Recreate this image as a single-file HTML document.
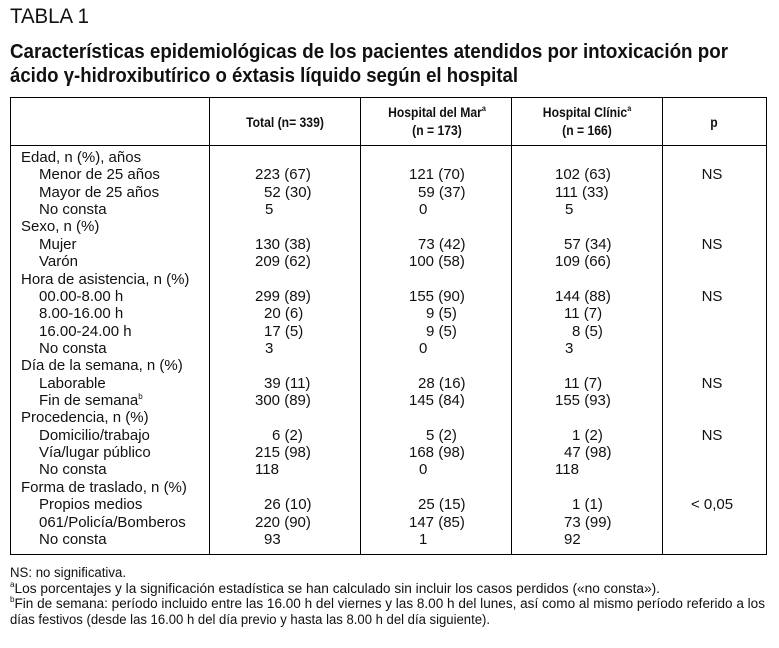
<!DOCTYPE html>
<html><head><meta charset="utf-8">
<style>
body{margin:0;width:779px;height:648px;background:#fff;position:relative;overflow:hidden;font-family:"Liberation Sans",sans-serif;color:#111}
.a{position:absolute;white-space:nowrap}
.fit{transform-origin:0 0}
.c{font-size:15px;line-height:17px}
.h{font-size:13.5px;font-weight:bold;text-align:center;transform:translateX(-50%) scaleX(.9);line-height:18px}
.vl{position:absolute;top:98px;height:457px;width:1px;background:#000}
.sp{font-size:8px;position:relative;top:-6px;line-height:0;vertical-align:baseline}
</style></head><body>
<div class="a fit" data-w="79" style="left:10px;top:5px;font-size:21px">TABLA 1</div>
<div class="a fit" data-w="718" style="left:10px;top:41px;font-size:20px;font-weight:bold">Características epidemiológicas de los pacientes atendidos por intoxicación por</div>
<div class="a fit" data-w="508" style="left:10px;top:65px;font-size:20px;font-weight:bold">ácido γ-hidroxibutírico o éxtasis líquido según el hospital</div>

<div class="a" style="left:10px;top:97px;width:755px;height:456px;border:1.5px solid #000"></div>
<div class="a" style="left:10px;top:145px;width:757px;height:1px;background:#000"></div>
<div class="vl" style="left:209px"></div>
<div class="vl" style="left:360px"></div>
<div class="vl" style="left:511px"></div>
<div class="vl" style="left:662px"></div>

<div class="a h" style="left:285px;top:114px">Total (n= 339)</div>
<div class="a h" style="left:437px;top:104px">Hospital del Mar<span class="sp">a</span><br>(n = 173)</div>
<div class="a h" style="left:587px;top:104px">Hospital Clínic<span class="sp">a</span><br>(n = 166)</div>
<div class="a h" style="left:714px;top:114px">p</div>

<div id="rows"></div>

<div class="a fit" data-w="116" style="left:10px;top:565px;font-size:13.5px">NS: no significativa.</div>
<div class="a fit" data-w="650" style="left:10px;top:581px;font-size:13.5px"><span class="sp">a</span>Los porcentajes y la significación estadística se han calculado sin incluir los casos perdidos («no consta»).</div>
<div class="a fit" data-w="755" style="left:10px;top:596px;font-size:13.5px"><span class="sp">b</span>Fin de semana: período incluido entre las 16.00 h del viernes y las 8.00 h del lunes, así como al mismo período referido a los</div>
<div class="a fit" data-w="480" style="left:10px;top:612px;font-size:13.5px">días festivos (desde las 16.00 h del día previo y hasta las 8.00 h del día siguiente).</div>

<script>
const labels=["Edad, n (%), años","Menor de 25 años","Mayor de 25 años","No consta","Sexo, n (%)","Mujer","Varón","Hora de asistencia, n (%)","00.00-8.00 h","8.00-16.00 h","16.00-24.00 h","No consta","Día de la semana, n (%)","Laborable","Fin de semana^b","Procedencia, n (%)","Domicilio/trabajo","Vía/lugar público","No consta","Forma de traslado, n (%)","Propios medios","061/Policía/Bomberos","No consta"];
const isGroup=[1,0,0,0,1,0,0,1,0,0,0,0,1,0,0,1,0,0,0,1,0,0,0];
const totalVals=["","223 (67)","52 (30)","5","","130 (38)","209 (62)","","299 (89)","20 (6)","17 (5)","3","","39 (11)","300 (89)","","6 (2)","215 (98)","118","","26 (10)","220 (90)","93"];
const marVals=["","121 (70)","59 (37)","0","","73 (42)","100 (58)","","155 (90)","9 (5)","9 (5)","0","","28 (16)","145 (84)","","5 (2)","168 (98)","0","","25 (15)","147 (85)","1"];
const clinicVals=["","102 (63)","111 (33)","5","","57 (34)","109 (66)","","144 (88)","11 (7)","8 (5)","3","","11 (7)","155 (93)","","1 (2)","47 (98)","118","","1 (1)","73 (99)","92"];
const pVals=["","NS","","","","NS","","","NS","","","","","NS","","","NS","","","","< 0,05","",""];
const root=document.getElementById('rows');
const y0=149, step=17.36;
function numLeft(v,base){
  if(!v) return base;
  const n=v.split(' ')[0].length;
  const hasP=v.indexOf('(')>=0;
  if(n===3) return base;
  if(n===2) return base+9;
  return hasP?base+17:base+10;
}
function add(txt,x,y,name,center){
  const d=document.createElement('div');
  d.className='a c';
  
  
  d.style.left=x+'px';d.style.top=y+'px';
  if(center) d.style.transform='translateX(-50%)';
  if(txt.indexOf('^b')>=0) d.innerHTML=txt.replace('^b','<span class="sp">b</span>');
  else d.textContent=txt;
  root.appendChild(d);
}
labels.forEach((l,i)=>{
  const y=y0+i*step;
  add(l,isGroup[i]?21:39,y,'row-label-'+i,false);
  if(totalVals[i]) add(totalVals[i],numLeft(totalVals[i],255),y,'total-value-'+i,false);
  if(marVals[i]) add(marVals[i],numLeft(marVals[i],409),y,'mar-value-'+i,false);
  if(clinicVals[i]) add(clinicVals[i],numLeft(clinicVals[i],555),y,'clinic-value-'+i,false);
  if(pVals[i]) add(pVals[i],712,y,'p-value-'+i,true);
});
document.querySelectorAll('.fit').forEach(e=>{
  const w=e.getBoundingClientRect().width;const t=+e.dataset.w;
  if(w>0&&t) e.style.transform='scaleX('+(t/w)+')';
});
</script>
</body></html>
